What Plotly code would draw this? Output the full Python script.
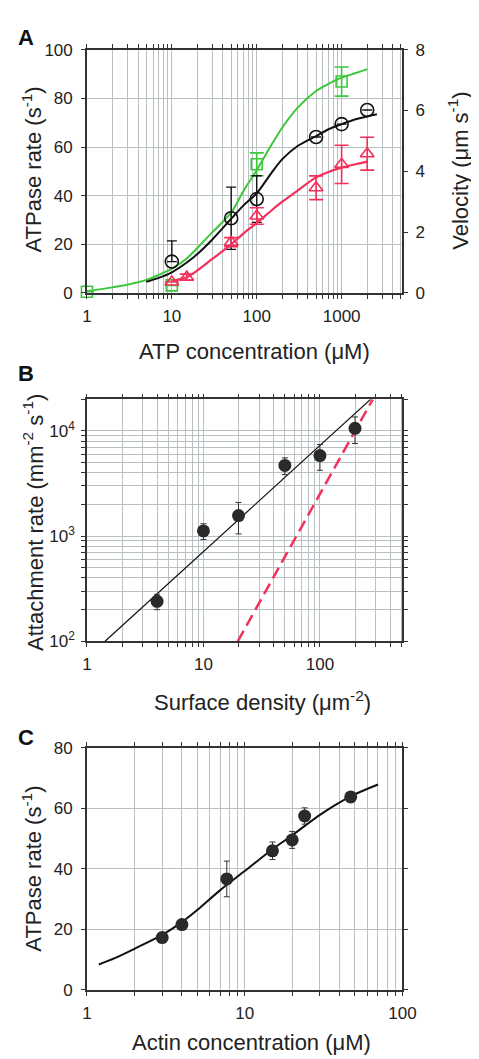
import plotly.graph_objects as go

# ---------------- Panel A data ----------------
atp_conc_green = [1, 10, 100, 1000]
atpase_green = [0.5, 3.1, 52.9, 86.9]
atpase_green_err = [0, 0, 4.7, 6.0]

atp_conc_black = [10, 50, 100, 500, 1000, 2000]
atpase_black = [12.9, 30.7, 38.6, 64.1, 69.4, 75.2]
atpase_black_err_plus = [8.5, 12.8, 9.6, 0, 0, 0]
atpase_black_err_minus = [0, 12.8, 9.6, 0, 0, 0]

atp_conc_red = [10, 15, 50, 100, 500, 1000, 2000]
velocity_red = [0.36, 0.52, 1.67, 2.53, 3.46, 4.23, 4.58]
velocity_red_err = [0, 0.1, 0.15, 0.27, 0.39, 0.63, 0.54]

fit_green_x = [1, 2, 3, 5, 7, 10, 15, 20, 30, 50, 70, 100, 150, 200, 300, 500, 700, 1000, 1500, 2000]
fit_green_y = [0.7, 2.3, 3.4, 5.3, 7.4, 10.0, 14.2, 18.5, 25.0, 33.0, 42.0, 50.5, 61.0, 68.0, 76.0,
               83.0, 86.0, 88.5, 90.5, 92.0]
fit_black_x = [5, 7, 10, 15, 20, 30, 50, 70, 100, 150, 200, 300, 500, 700, 1000, 1500, 2600]
fit_black_y = [4.6, 6.2, 8.5, 12.5, 16.0, 22.0, 30.5, 36.0, 41.0, 49.5, 55.0, 60.3, 64.5, 67.3,
               69.4, 71.5, 73.5]
fit_red_x = [10, 15, 20, 30, 50, 70, 100, 150, 200, 300, 500, 700, 1000, 1500, 2000]
fit_red_v = [0.40, 0.52, 0.74, 1.12, 1.60, 1.96, 2.30, 2.72, 3.00, 3.36, 3.80, 3.98, 4.12, 4.24, 4.32]

# ---------------- Panel B data ----------------
surf_density = [4, 10, 20, 50, 100, 200]
attach_rate = [240, 1120, 1570, 4700, 5830, 10600]
attach_err = [40, 190, 520, 850, 1600, 3000]
fit_lin_x = [1.43, 272]
fit_lin_y = [100, 20000]
fit_sq_x = [19.7, 284]
fit_sq_y = [100, 20000]

# ---------------- Panel C data ----------------
actin_conc = [3, 4, 7.7, 15, 20, 24, 47]
atpase_c = [17.3, 21.6, 36.7, 46.0, 49.6, 57.5, 63.8]
atpase_c_err = [0, 0, 5.9, 2.9, 2.8, 2.7, 0]
fit_c_x = [1.19, 1.5, 2, 3, 4, 5, 7, 10, 15, 20, 30, 47, 70]
fit_c_y = [8.4, 10.5, 13.6, 18.2, 22.4, 26.4, 33.0, 39.3, 46.5, 51.1, 57.9, 64.0, 67.9]

# tick values / labels
a_x_major = [1, 10, 100, 1000]
a_x_minor = [2, 3, 4, 5, 6, 7, 8, 9, 20, 30, 40, 50, 60, 70, 80, 90,
             200, 300, 400, 500, 600, 700, 800, 900, 2000, 3000, 4000, 5000]
b_x_major = [1, 10, 100]
b_x_minor = [2, 3, 4, 5, 6, 7, 8, 9, 20, 30, 40, 50, 60, 70, 80, 90, 200, 300, 400, 500]
b_y_major = [100, 1000, 10000]
b_y_labels = ["10<sup>2</sup>", "10<sup>3</sup>", "10<sup>4</sup>"]
b_y_minor = [200, 300, 400, 500, 600, 700, 800, 900, 2000, 3000, 4000, 5000, 6000, 7000,
             8000, 9000, 20000]
c_x_major = [1, 10, 100]
c_x_minor = [2, 3, 4, 5, 6, 7, 8, 9, 20, 30, 40, 50, 60, 70, 80, 90]

GREEN = "#3cc83a"
RED = "#f2305a"
BLACK = "#111111"
DARK = "#2a2a2a"
GRID = "#b9c0c4"
AXC = "#333333"
FONT = "Arial, Liberation Sans, sans-serif"

fig = go.Figure()

SPL = dict(shape="spline", smoothing=0.8)
# Panel A curves
fig.add_trace(go.Scatter(x=fit_green_x, y=fit_green_y, mode="lines", line=dict(color=GREEN, width=2, **SPL),
                         xaxis="x", yaxis="y", showlegend=False))
fig.add_trace(go.Scatter(x=fit_black_x, y=fit_black_y, mode="lines", line=dict(color=BLACK, width=2, **SPL),
                         xaxis="x", yaxis="y", showlegend=False))
fig.add_trace(go.Scatter(x=fit_red_x, y=fit_red_v, mode="lines", line=dict(color=RED, width=2.2, **SPL),
                         xaxis="x", yaxis="y2", showlegend=False))
# Panel A markers
fig.add_trace(go.Scatter(x=atp_conc_green, y=atpase_green, mode="markers",
                         marker=dict(symbol="square-open", size=11, color=GREEN, line=dict(width=1.6)),
                         error_y=dict(type="data", array=atpase_green_err, color=GREEN, thickness=1.6, width=7),
                         xaxis="x", yaxis="y", cliponaxis=False, showlegend=False))
fig.add_trace(go.Scatter(x=atp_conc_black, y=atpase_black, mode="markers",
                         marker=dict(symbol="circle-open", size=13, color=BLACK, line=dict(width=1.6)),
                         error_y=dict(type="data", symmetric=False, array=atpase_black_err_plus,
                                      arrayminus=atpase_black_err_minus, color=BLACK, thickness=1.4, width=5),
                         xaxis="x", yaxis="y", cliponaxis=False, showlegend=False))
fig.add_trace(go.Scatter(x=atp_conc_red, y=velocity_red, mode="markers",
                         marker=dict(symbol="triangle-up-open", size=12, color=RED, line=dict(width=1.6)),
                         error_y=dict(type="data", array=velocity_red_err, color=RED, thickness=1.6, width=7),
                         xaxis="x", yaxis="y2", cliponaxis=False, showlegend=False))

# Panel B
fig.add_trace(go.Scatter(x=fit_lin_x, y=fit_lin_y, mode="lines", line=dict(color=BLACK, width=1.2),
                         xaxis="x2", yaxis="y3", showlegend=False))
fig.add_trace(go.Scatter(x=fit_sq_x, y=fit_sq_y, mode="lines", line=dict(color=RED, width=2.5, dash="12px,6px"),
                         xaxis="x2", yaxis="y3", showlegend=False))
fig.add_trace(go.Scatter(x=surf_density, y=attach_rate, mode="markers",
                         marker=dict(symbol="circle", size=13, color=DARK, line=dict(width=0)),
                         error_y=dict(type="data", array=attach_err, color=AXC, thickness=1, width=3),
                         xaxis="x2", yaxis="y3", cliponaxis=False, showlegend=False))

# Panel C
fig.add_trace(go.Scatter(x=fit_c_x, y=fit_c_y, mode="lines", line=dict(color=BLACK, width=2, **SPL),
                         xaxis="x3", yaxis="y4", showlegend=False))
fig.add_trace(go.Scatter(x=actin_conc, y=atpase_c, mode="markers",
                         marker=dict(symbol="circle", size=13, color=DARK, line=dict(width=0)),
                         error_y=dict(type="data", array=atpase_c_err, color=AXC, thickness=1, width=3),
                         xaxis="x3", yaxis="y4", cliponaxis=False, showlegend=False))

W, H = 479, 1059


def px(xp):
    return xp / W


def py(yp):
    return 1 - yp / H


xdom = [px(77), px(405.5)]
common_ax = dict(showline=True, linecolor=AXC, linewidth=1.5, ticks="outside", ticklen=4, tickwidth=1,
                 tickcolor=AXC, gridcolor=GRID, gridwidth=1, zeroline=False,
                 tickfont=dict(family=FONT, size=17, color="#222"))


def minor_spec(vals):
    return dict(tickmode="array", tickvals=vals, ticks="outside", ticklen=4, tickwidth=1,
                tickcolor=AXC, showgrid=True, gridcolor=GRID, gridwidth=1)


def log_x_axis(major, minor, rng, anchor):
    return dict(type="log", range=rng, tickmode="array", tickvals=major,
                ticktext=[str(v) for v in major], minor=minor_spec(minor), domain=xdom, anchor=anchor,
                mirror="ticks", showgrid=True, ticklabelstandoff=3, **common_ax)


fig.update_layout(
    width=W, height=H, margin=dict(l=0, r=0, t=0, b=0),
    paper_bgcolor="white", plot_bgcolor="white",
    font=dict(family=FONT, color="#222"),
    xaxis=log_x_axis(a_x_major, a_x_minor, [0, 3.716], "y"),
    yaxis=dict(range=[0, 100], tickvals=[0, 20, 40, 60, 80, 100], domain=[py(281), py(33.3)], anchor="x",
               showgrid=True, mirror=False, ticklabelstandoff=5, **common_ax),
    yaxis2=dict(range=[0, 8], tickvals=[0, 2, 4, 6, 8], overlaying="y", side="right", anchor="x",
                showgrid=False, ticklabelstandoff=4, **common_ax),
    xaxis2=log_x_axis(b_x_major, b_x_minor, [0, 2.708], "y3"),
    yaxis3=dict(type="log", range=[2, 4.301], tickmode="array", tickvals=b_y_major, ticktext=b_y_labels,
                minor=minor_spec(b_y_minor), domain=[py(635.7), py(389.3)],
                anchor="x2", mirror="ticks", showgrid=True, ticklabelstandoff=3, **common_ax),
    xaxis3=log_x_axis(c_x_major, c_x_minor, [0, 2], "y4"),
    yaxis4=dict(range=[0, 80], tickvals=[0, 20, 40, 60, 80], domain=[py(990.7), py(744.3)], anchor="x3",
                mirror="ticks", showgrid=True, ticklabelstandoff=5, **common_ax),
)

TF = dict(family=FONT, size=22, color="#222")
ann = []


def add_title(text, x, y, angle=0):
    ann.append(dict(text=text, x=px(x), y=py(y), xref="paper", yref="paper", showarrow=False,
                    xanchor="center", yanchor="middle", textangle=angle, font=TF))


add_title("ATPase rate (s<sup>-1</sup>)", 20, 155, -90)
add_title("Velocity (μm s<sup>-1</sup>)", 464, 157, -90)
add_title("ATP concentration (μM)", 251, 341)
add_title("Attachment rate (mm<sup>-2</sup> s<sup>-1</sup>)", 21, 515, -90)
add_title("Surface density (μm<sup>-2</sup>)", 260, 696)
add_title("ATPase rate (s<sup>-1</sup>)", 20, 867, -90)
add_title("Actin concentration (μM)", 248, 1044)

for letter, yy in [("A", 20.5), ("B", 363.5), ("C", 733.5)]:
    ann.append(dict(text="<b>%s</b>" % letter, x=px(3), y=py(yy), xref="paper", yref="paper",
                    showarrow=False, xanchor="left", yanchor="middle",
                    font=dict(family=FONT, size=22, color="#111")))

fig.update_layout(annotations=ann)
fig.write_html("out.html")
